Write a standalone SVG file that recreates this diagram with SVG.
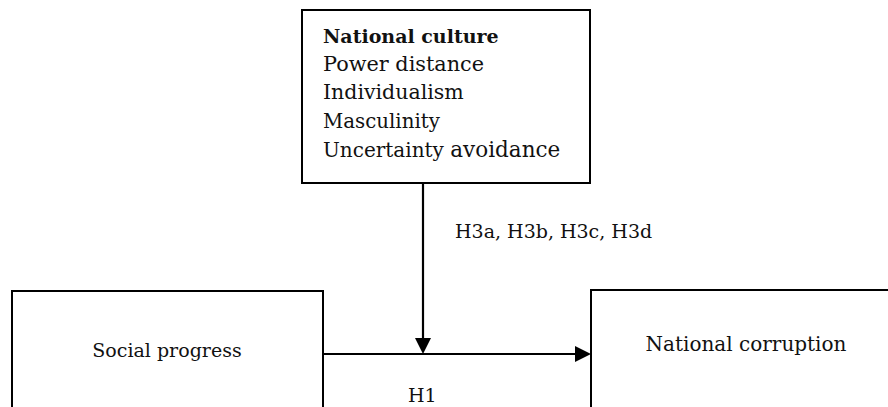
<svg xmlns="http://www.w3.org/2000/svg" width="888" height="407" viewBox="0 0 888 407">
  <defs>
    <marker id="arrow" markerUnits="userSpaceOnUse" markerWidth="16" markerHeight="16" refX="10" refY="8" orient="auto">
      <path d="M0,0 L16,8 L0,16 Z" fill="#000"/>
    </marker>
  </defs>
  <style>
    .box { fill: #fff; stroke: #000; stroke-width: 2; }
    .txt { font-family: "DejaVu Serif", "Liberation Serif", serif; font-size: 19px; fill: #111; }
    .bold { font-weight: bold; }
    .conn { stroke: #000; stroke-width: 2.2; fill: none; }
  </style>
  <rect width="888" height="407" fill="#fff"/>
  <g id="national-culture">
    <rect class="box" x="302" y="10" width="288" height="173"/>
    <text class="txt bold" x="323" y="43">National culture</text>
    <text class="txt" x="323" y="71" style="font-size:20.8px">Power distance</text>
    <text class="txt" x="323" y="99" style="font-size:20.5px">Individualism</text>
    <text class="txt" x="323" y="128" style="font-size:19.8px">Masculinity</text>
    <text class="txt" x="323" y="157" style="font-size:20px">Uncertainty <tspan style="font-size:21.5px">avoidance</tspan></text>
  </g>
  <g id="social-progress">
    <rect class="box" x="12" y="291" width="311" height="130"/>
    <text class="txt" x="167" y="357" text-anchor="middle">Social progress</text>
  </g>
  <g id="national-corruption">
    <rect class="box" x="591" y="290" width="310" height="130"/>
    <text class="txt" x="746" y="351" text-anchor="middle" style="font-size:20px">National corruption</text>
  </g>
  <g id="connectors">
    <line class="conn" x1="323" y1="354" x2="585" y2="354" marker-end="url(#arrow)"/>
    <line class="conn" x1="423" y1="183" x2="423" y2="348" marker-end="url(#arrow)"/>
    <text class="txt" x="455" y="238">H3a, H3b, H3c, H3d</text>
    <text class="txt" x="408" y="402">H1</text>
  </g>
</svg>
